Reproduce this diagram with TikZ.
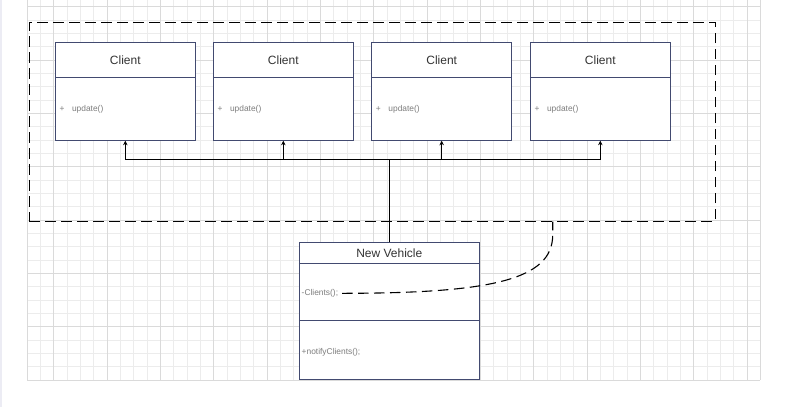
\documentclass[tikz,border=0pt]{standalone}
\usepackage{fontspec}
\setmainfont{Liberation Sans}
\usetikzlibrary{arrows.meta,calc}
\definecolor{boxln}{RGB}{66,74,112}
\definecolor{gridminor}{RGB}{236,236,236}
\definecolor{gridmajor}{RGB}{218,218,218}
\definecolor{band}{RGB}{236,236,244}
\definecolor{titletxt}{RGB}{51,51,51}
\definecolor{smalltxt}{RGB}{125,125,125}
\tikzset{
  umlbox/.style={draw=boxln, line width=0.9pt, fill=white, inner sep=0pt},
  clientbox/.style={umlbox, minimum width=140pt, minimum height=98pt},
  divline/.style={draw=boxln, line width=0.9pt},
  titletext/.style={font=\fontsize{12}{14}\selectfont, text=titletxt, inner sep=0pt},
  smalltext/.style={font=\fontsize{8.4}{10}\selectfont, text=smalltxt, inner sep=0pt, anchor=west},
  conn/.style={draw=black, line width=1.1pt},
  arr/.style={conn, -{Stealth[length=4.5pt,width=4.5pt]}},
  dashline/.style={draw=black, line width=1.1pt, dash pattern=on 10.5pt off 5.5pt},
}
\begin{document}
\begin{tikzpicture}[x=1pt,y=-1pt]
\useasboundingbox (0,0) rectangle (787,407);
\fill[white] (0,0) rectangle (787,407);
\fill[band] (0,0) rectangle (2,407);
% grid
\foreach \k in {0,...,55} {
  \draw[gridminor, line width=0.8pt] ({27+13.333*\k},0) -- ({27+13.333*\k},380);
}
\foreach \j in {0,...,28} {
  \draw[gridminor, line width=0.8pt] (27,{380-13.333*\j}) -- (760,{380-13.333*\j});
}
\foreach \k in {2,6,...,54} {
  \draw[gridmajor, line width=0.9pt] ({27+13.333*\k},0) -- ({27+13.333*\k},380);
}
\foreach \j in {0,4,...,28} {
  \draw[gridmajor, line width=0.9pt] (27,{380-13.333*\j}) -- (760,{380-13.333*\j});
}
\draw[gridmajor, line width=0.9pt] (27,0) -- (27,380);
\draw[gridmajor, line width=0.9pt] (760,0) -- (760,380);

% dashed group
\node[dashline, minimum width=686pt, minimum height=198.5pt, inner sep=0pt] (grp) at (372.3,121.8) {};

% clients
\foreach \n/\cx in {c1/125.3, c2/283.3, c3/441.7, c4/600.3} {
  \node[clientbox] (\n) at (\cx,91.3) {};
  \draw[divline] ($(\n.north west)+(0,36)$) -- ($(\n.north east)+(0,36)$);
  \node[titletext] (\n t) at ($(\n.north)+(0,18)$) {Client};
  \node[smalltext] (\n p) at ($(\n.north west)+(4.5,67)$) {+};
  \node[smalltext] (\n m) at ($(\n.north west)+(17,67)$) {update()};
}

% new vehicle
\node[umlbox, minimum width=180pt, minimum height=136.7pt] (nv) at (389.3,311) {};
\draw[divline] ($(nv.north west)+(0,21.6)$) -- ($(nv.north east)+(0,21.6)$);
\draw[divline] ($(nv.north west)+(0,78.6)$) -- ($(nv.north east)+(0,78.6)$);
\node[titletext] (nvt) at ($(nv.north)+(0,11)$) {New Vehicle};
\node[smalltext] (cl) at (301.5,293.3) {-Clients();};
\node[smalltext] (nc) at (301.5,352.7) {+notifyClients();};

% connectors
\coordinate (bus) at (389.3,159.3);
\draw[conn] (nv.north) -- (bus);
\draw[arr] (bus) -| (c1.south);
\draw[arr] (bus) -| (c2.south);
\draw[arr] (bus) -| (c3.south);
\draw[arr] (bus) -| (c4.south);

% dashed curve
\coordinate (cs) at (342,293.3);
\coordinate (ce) at (grp.south -| 552.7,0);
\draw[dashline] (cs) .. controls (490,293.3) and (552.7,280) .. (552.7,235) -- (ce);
\end{tikzpicture}
\end{document}
